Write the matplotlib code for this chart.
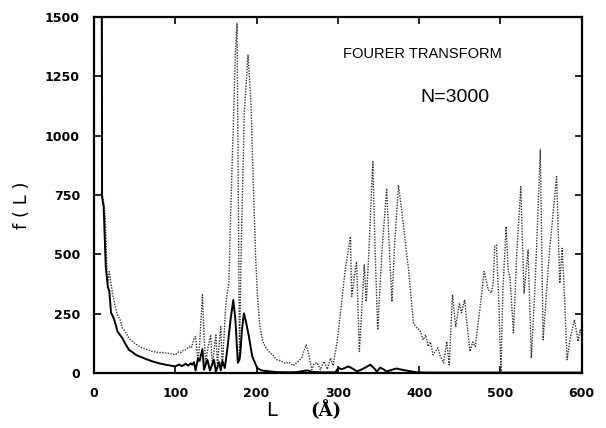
import matplotlib
matplotlib.use("Agg")
import matplotlib.pyplot as plt

# ------------------------------------------
# data
# ------------------------------------------

# dotted curve
L_dot = [2, 6, 9, 10, 12, 14, 16, 17, 19, 21, 23, 25, 27, 29, 32, 35, 39, 43,
         48, 52, 56, 60, 64, 68, 72, 76, 80, 84, 88, 92, 95, 100, 104, 107, 110,
         113, 117, 120, 123, 125, 128, 130, 133.4, 135.5, 137.4, 140, 143.6,
         145.6, 148, 150, 152, 154, 156, 158, 160, 162, 164, 166, 168, 171, 174,
         176, 177.5, 179, 181, 185, 189.5, 193, 196, 199, 201, 204, 207, 210,
         215, 220, 225, 230, 235, 240, 245, 250, 255, 258, 261, 264, 268, 271,
         274.5, 278.5, 283, 287, 291, 294, 299, 303, 309, 315.5, 317, 323,
         326.5, 332.5, 335, 338, 343, 346, 349, 354, 360, 363, 366.5, 370,
         374.6, 378, 383, 387, 390, 393, 397, 401, 405, 408, 411, 414, 417, 420,
         423, 426, 430, 434, 437, 441, 445, 449.5, 452, 456, 459, 462.6, 466,
         469, 474, 480, 485, 489, 491, 493, 495, 498, 500.6, 503, 507, 509.5,
         511.6, 516, 520, 525, 529, 534, 538, 543, 549, 552.5, 560, 569, 573,
         576, 579, 582, 586, 591, 595.5, 598, 600]
f_dot = [1700, 1700, 1550, 760, 720, 650, 430, 380, 427, 380, 330, 300, 270,
         244, 225, 190, 170, 146, 130, 120, 111, 104, 100, 95, 90, 88, 85, 86,
         83, 82, 80, 76, 88, 85, 95, 97, 110, 105, 146, 153, 50, 120, 329, 150,
         42, 100, 160, 30, 100, 160, 30, 120, 195, 27, 150, 280, 337, 380, 650,
         1000, 1350, 1475, 800, 55, 500, 1100, 1340, 1150, 800, 480, 330, 200,
         140, 115, 90, 75, 55, 50, 40, 45, 30, 45, 60, 90, 118, 80, 13, 40, 42,
         13, 48, 15, 62, 30, 126, 244, 434, 574, 322, 469, 90, 455, 300, 497,
         890, 500, 181, 500, 778, 550, 300, 550, 790, 700, 550, 434, 320, 210,
         190, 180, 139, 160, 111, 130, 76, 90, 105, 70, 42, 132, 34, 329, 195,
         294, 253, 308, 200, 90, 130, 111, 250, 427, 350, 337, 380, 532, 539,
         300, 0, 350, 617, 430, 406, 168, 500, 785, 336, 518, 62, 400, 940, 139,
         500, 827, 378, 525, 300, 55, 150, 223, 132, 181, 160]

# solid curve
L_sol = [2, 8, 9.8, 10, 12, 13, 14.5, 16, 17, 19, 21, 23, 25, 27, 29, 32, 35,
         39, 43, 48, 52, 56, 64, 72, 80, 88, 95, 100, 105, 108, 113, 116, 119,
         121, 123, 125, 128, 130, 133.4, 135.4, 139.5, 142.7, 147.6, 150, 154,
         156, 158, 161, 164, 168, 171.4, 174, 177, 179, 180, 182, 184.5, 187,
         190.6, 194.7, 200.8, 206, 213, 225, 240, 250, 258, 263, 268, 280, 297,
         299, 301, 305, 313, 318, 323.5, 330, 340, 345, 348, 352, 356, 360, 366,
         372, 380, 390, 397, 410, 600]
f_sol = [1700, 1700, 1600, 740, 700, 600, 450, 400, 364, 343, 253, 240, 223,
         200, 174, 160, 146, 120, 97, 85, 75, 69, 58, 48, 40, 34, 30, 27, 35,
         28, 38, 30, 40, 34, 45, 10, 60, 50, 100, 13, 55, 10, 55, 5, 45, 10, 50,
         20, 97, 223, 307, 223, 42, 55, 80, 180, 251, 215, 153, 69, 20, 10, 7,
         3, 2, 3, 8, 10, 4, 2, 2, 13, 20, 15, 27, 18, 6, 15, 34, 18, 5, 22, 15,
         5, 12, 18, 12, 6, 2, 1, 1]

x_ticks = [0, 100, 200, 300, 400, 500, 600]
y_ticks = [0, 250, 500, 750, 1000, 1250, 1500]

# ------------------------------------------
# figure
# ------------------------------------------

fig = plt.figure(figsize=(6.06, 4.28), dpi=100)
ax = fig.add_axes([0.155, 0.129, 0.805, 0.831])

ax.plot(L_dot, f_dot, color="#333333", linestyle=(0, (1, 1)), linewidth=1.0)
ax.plot(L_sol, f_sol, color="black", linewidth=1.4)

ax.set_xlim(0, 600)
ax.set_ylim(0, 1500)

ax.set_xticks(x_ticks)
ax.set_yticks(y_ticks)
ax.tick_params(direction="in", length=5, width=1.2,
               top=True, right=True, labelsize=9, pad=10)
for lab in ax.get_xticklabels() + ax.get_yticklabels():
    lab.set_fontweight("bold")

for sp in ax.spines.values():
    sp.set_linewidth(1.6)

ax.set_ylabel("f ( L )", fontsize=13)
ax.yaxis.set_label_coords(-0.13, 0.47)

ax.text(0.365, -0.105, "L", transform=ax.transAxes, fontsize=14,
        ha="center", va="center")
ax.text(0.475, -0.105, "(Å)", transform=ax.transAxes, fontsize=13,
        family="DejaVu Serif", fontweight="bold", ha="center", va="center")

ax.text(0.51, 0.895, "FOURER TRANSFORM", transform=ax.transAxes,
        fontsize=10.5, family="Liberation Sans", ha="left", va="center")
ax.text(0.67, 0.775, "N=3000", transform=ax.transAxes,
        fontsize=14, family="Liberation Sans", ha="left", va="center")

fig.savefig("out.png", dpi=100)
